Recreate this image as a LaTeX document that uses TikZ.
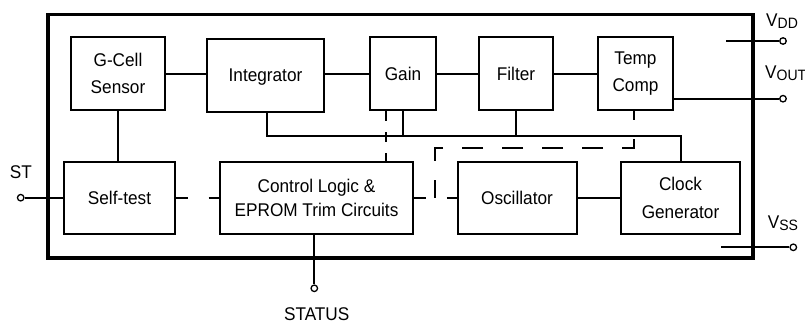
\documentclass[tikz,border=0pt]{standalone}
\usepackage{fontspec}
\setmainfont{Liberation Sans}[FakeStretch=0.935]
\begin{document}
\begin{tikzpicture}[x=1pt,y=-1pt,
  blk/.style={draw, line width=2pt, inner sep=0pt, align=center, font=\fontsize{18.4}{27.5}\selectfont},
  one/.style={text height=13.2pt, text depth=0pt},
  wire/.style={line width=2pt},
  dwire/.style={line width=2pt, dash pattern=on 12pt off 20.5pt},
  pinc/.style={draw, circle, line width=1.3pt, minimum size=6.5pt, inner sep=0pt, fill=white},
  lbl/.style={font=\fontsize{18.4}{20}\selectfont, inner sep=0pt},
  subf/.style={}
]
\useasboundingbox (0,0) rectangle (805,324);
% chip outline
\node[draw, line width=3.2pt, minimum width=705pt, minimum height=243.3pt, inner sep=0pt] (chip) at (400.5,136.35) {};
% blocks
\node[blk, minimum width=94pt, minimum height=73pt] (gcell) at (118,73.5) {G-Cell\\Sensor};
\node[blk, one, minimum width=117pt, minimum height=73pt] (integ) at (265.5,75) {Integrator};
\node[blk, one, minimum width=66pt, minimum height=73pt] (gain) at (403,73.5) {Gain};
\node[blk, one, minimum width=74pt, minimum height=73pt] (filter) at (516,73.5) {Filter};
\node[blk, minimum width=75pt, minimum height=73pt] (temp) at (635.5,73.5) {Temp\\Comp};
\node[blk, one, minimum width=111pt, minimum height=72pt] (selftest) at (119.5,198) {Self-test};
\node[blk, minimum width=193.6pt, minimum height=72pt] (ctrl) at (316.5,198) {Control Logic \&\\[-3pt]EPROM Trim Circuits};
\node[blk, one, minimum width=119pt, minimum height=72pt] (osc) at (517,198) {Oscillator};
\node[blk, minimum width=119pt, minimum height=72pt] (clk) at (680.5,198) {Clock\\Generator};
% signal chain
\draw[wire] (gcell.east) -- (gcell.east -| integ.west);
\draw[wire] (integ.east |- gain.west) -- (gain.west);
\draw[wire] (gain.east) -- (filter.west);
\draw[wire] (filter.east) -- (temp.west);
\draw[wire] (gcell.south) -- (gcell.south |- selftest.north);
\draw[wire] (osc.east) -- (clk.west);
% bus
\coordinate (busL) at (266.7,135.7);
\coordinate (busR) at (681,135.7);
\coordinate (intb) at ([xshift=1.2pt]integ.south);
\draw[wire] (intb) -- (busL) -- (busR) -- (busR |- clk.north);
\draw[wire] (gain.south) -- (gain.south |- busR);
\draw[wire] (filter.south) -- (filter.south |- busR);
% dashed trim lines
\coordinate (gd) at ([xshift=-17.3pt]gain.south);
\draw[wire, dash pattern=on 10pt off 11pt] (gd) -- (gd |- ctrl.north);
\coordinate (td) at ([xshift=-1.8pt]temp.south);
\coordinate (dk) at (435,148.3);
\coordinate (dj) at (435,197.7);
\draw[wire, dash pattern=on 21pt off 19pt, dash phase=12pt] (td) |- (dk) -- (dj);
\draw[dwire] (selftest.east) -- (ctrl.west);
\draw[dwire] (ctrl.east) -- (osc.west);
% pins
\node[pinc] (vddp) at (783,41) {};
\coordinate (vddin) at (726,41);
\draw[wire] (vddin) -- (vddp.west);
\node[pinc] (voutp) at (783,98.7) {};
\draw[wire] (temp.east |- voutp) -- (voutp.west);
\node[pinc] (vssp) at (793.3,247.3) {};
\coordinate (vssin) at (721,247.3);
\draw[wire] (vssin) -- (vssp.west);
\node[pinc] (stp) at (20.7,197.7) {};
\draw[wire] (stp.east) -- (selftest.west |- stp);
\node[pinc] (statp) at (314.3,288.3) {};
\draw[wire] (statp |- ctrl.south) -- (statp.north);
% pin labels
\node[lbl, anchor=base west] (vddl) at (766,26) {V\raisebox{-2.5pt}{\fontsize{15}{15}\selectfont DD}};
\node[lbl, anchor=base west] (voutl) at (765,78.3) {V\raisebox{-2.5pt}{\fontsize{15}{15}\selectfont OUT}};
\node[lbl, anchor=base west] (vssl) at (767.7,228.3) {V\raisebox{-2.5pt}{\fontsize{15}{15}\selectfont SS}};
\node[lbl, anchor=base] (stl) at (20.8,178.3) {ST};
\node[lbl, anchor=base] (statl) at (316.7,320) {STATUS};
\end{tikzpicture}
\end{document}
